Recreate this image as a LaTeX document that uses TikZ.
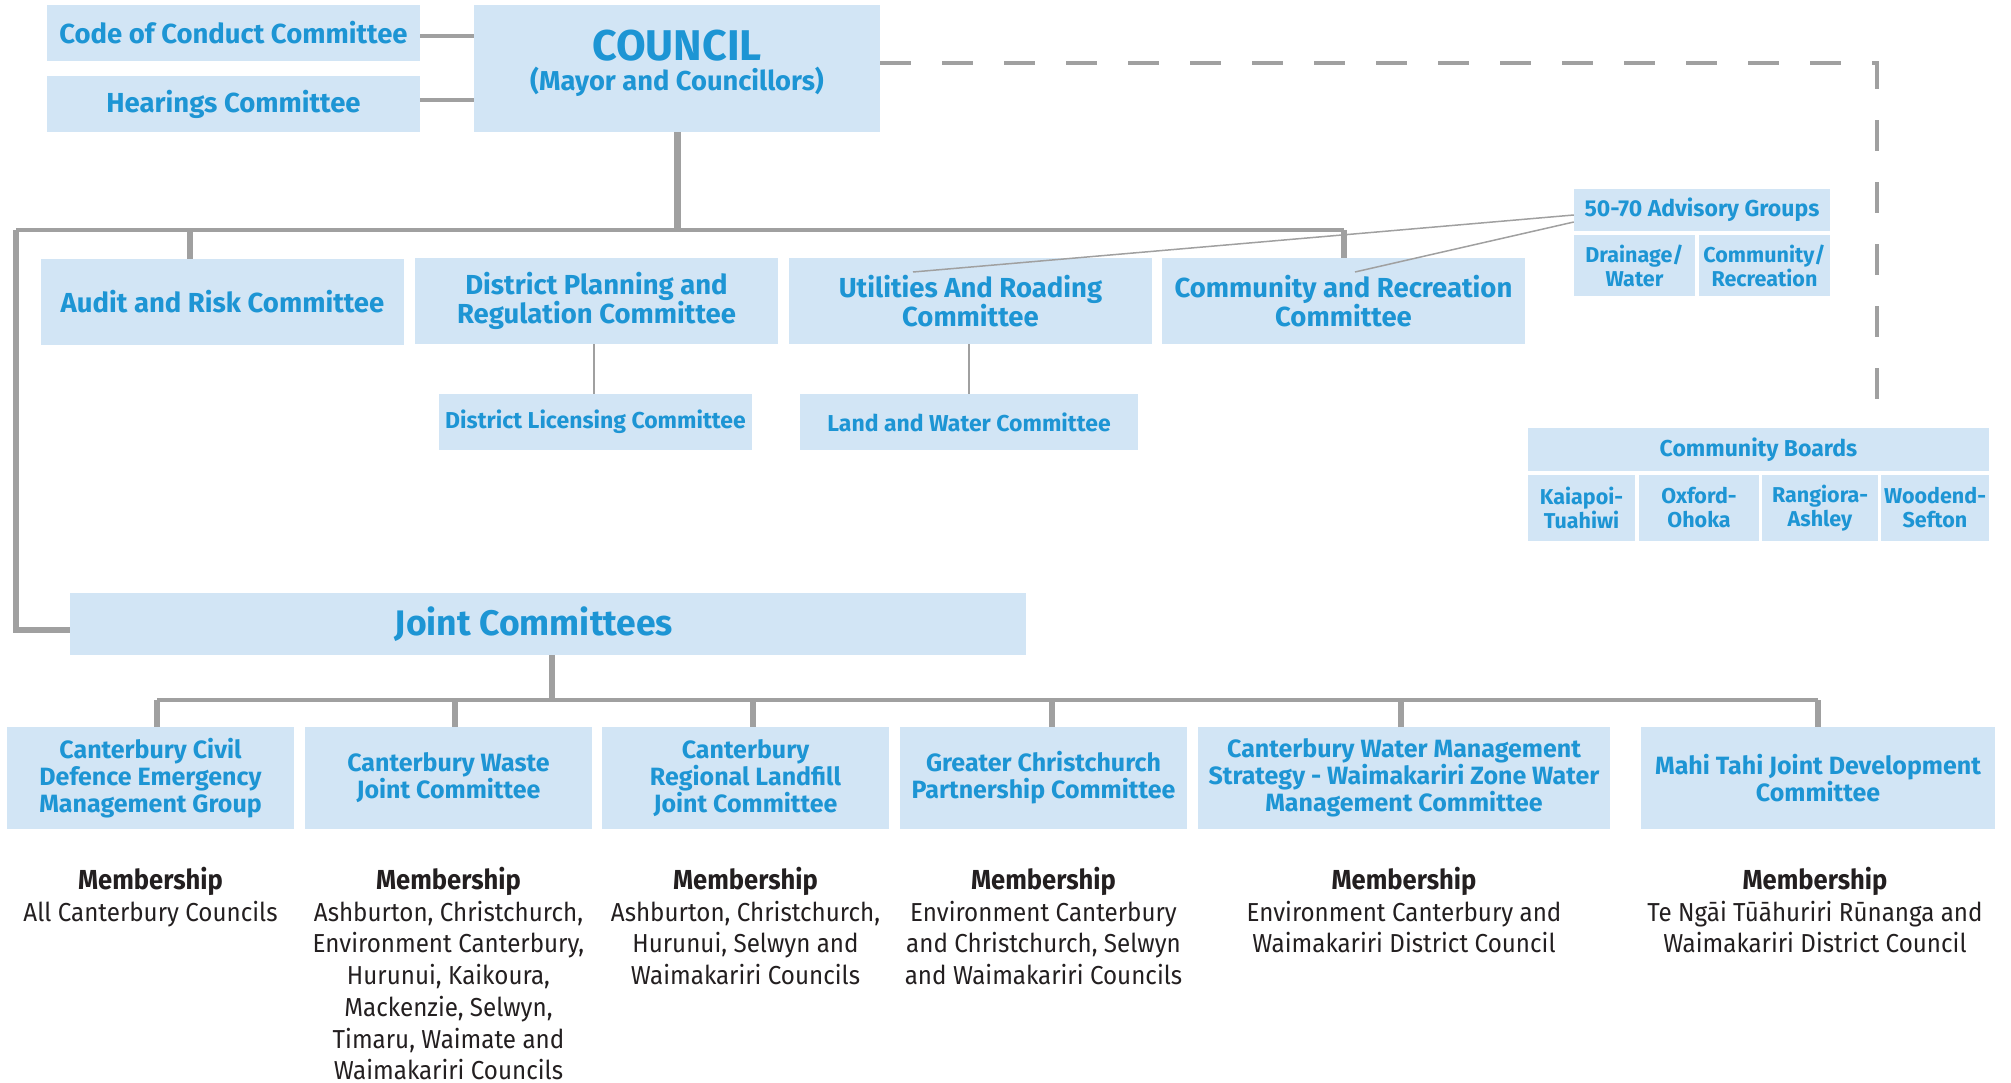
\documentclass[tikz,border=0pt]{standalone}
\usepackage{fontspec}
\setmainfont{Fira Sans}
\newfontfamily\memfont{Fira Sans}[FakeStretch=0.93]
\definecolor{boxblue}{RGB}{210,229,245}
\definecolor{textblue}{RGB}{29,149,212}
\definecolor{linegray}{RGB}{160,160,160}
\definecolor{memtext}{RGB}{35,31,32}
\tikzset{
  box/.style={fill=boxblue, text=textblue, align=center, inner sep=0pt,
    font=\bfseries\fontsize{27.5}{27}\selectfont},
  lowbox/.style={box, font=\bfseries\fontsize{25}{27}\selectfont},
  smallbox/.style={box, font=\bfseries\fontsize{23}{24.5}\selectfont},
  tinybox/.style={box, font=\bfseries\fontsize{21.5}{24}\selectfont},
  conn/.style={draw=linegray, line width=3.5pt},
  vconn/.style={draw=linegray, line width=6pt},
  thin/.style={draw=linegray, line width=2.5pt},
  hair/.style={draw=linegray, line width=1.5pt},
  dashline/.style={draw=linegray, line width=4.5pt, dash pattern=on 31pt off 31pt},
  member/.style={anchor=north, align=center, inner sep=0pt, text=memtext,
    font=\memfont\fontsize{26}{31.7}\selectfont}
}
\newcommand{\memhead}{{\bfseries\fontsize{27.5}{31.7}\selectfont Membership}}
\begin{document}
\begin{tikzpicture}[x=1pt, y=-1pt]
\useasboundingbox (0,0) rectangle (2011,1083);

% top nodes
\node[box, minimum width=373pt, minimum height=56pt] (code) at (233.5,33) {Code of Conduct Committee};
\node[box, minimum width=373pt, minimum height=56pt] (hear) at (233.5,104) {Hearings Committee};
\node[box, minimum width=406pt, minimum height=127pt] (council) at (677,68.5) {};
\node[text=textblue, font=\bfseries\fontsize{43}{45}\selectfont, inner sep=0pt] (counciltitle) at (677,46) {COUNCIL};
\node[text=textblue, font=\bfseries\fontsize{27.3}{29}\selectfont, inner sep=0pt] (councilsub) at (677,82) {(Mayor and Councillors)};

% committees
\node[box, minimum width=363pt, minimum height=86pt] (audit) at (222.5,302) {Audit and Risk Committee};
\node[box, minimum width=363pt, minimum height=86pt] (dp) at (596.5,301) {District Planning and\\Regulation Committee};
\node[box, minimum width=363pt, minimum height=86pt] (util) at (970.5,301) {Utilities And Roading\\Committee};
\node[box, minimum width=363pt, minimum height=86pt] (comrec) at (1343.5,301) {Community and Recreation\\Committee};
\node[smallbox, minimum width=313pt, minimum height=56pt] (lic) at (595.5,422) {District Licensing Committee};
\node[smallbox, minimum width=338pt, minimum height=56pt] (land) at (969,422) {Land and Water Committee};

% advisory groups
\node[smallbox, minimum width=256pt, minimum height=42pt] (adv) at (1702,210) {50-70 Advisory Groups};
\node[tinybox, minimum width=121pt, minimum height=61pt] (drain) at (1634.5,265.5) {Drainage/\\Water};
\node[tinybox, minimum width=131pt, minimum height=61pt] (comm2) at (1764.5,265.5) {Community/\\Recreation};

% community boards
\node[smallbox, minimum width=461pt, minimum height=43pt] (cb) at (1758.5,449.5) {Community Boards};
\node[tinybox, minimum width=107pt, minimum height=66pt] (kai) at (1581.5,508) {Kaiapoi-\\Tuahiwi};
\node[tinybox, minimum width=120pt, minimum height=66pt] (oxf) at (1699,508) {Oxford-\\Ohoka};
\node[tinybox, minimum width=116pt, minimum height=66pt] (ran) at (1820,508) {Rangiora-\\Ashley};
\node[tinybox, minimum width=108pt, minimum height=66pt] (woo) at (1935,508) {Woodend-\\Sefton};

% joint committees
\node[box, font=\bfseries\fontsize{35.5}{37}\selectfont, minimum width=956pt, minimum height=62pt] (joint) at (548,624) {Joint Committees\hspace*{28pt}};
\node[lowbox, minimum width=287pt, minimum height=102pt] (civ) at (150.5,778) {Canterbury Civil\\Defence Emergency\\Management Group};
\node[lowbox, minimum width=287pt, minimum height=102pt] (waste) at (448.5,778) {Canterbury Waste\\Joint Committee};
\node[lowbox, minimum width=287pt, minimum height=102pt] (landf) at (745.5,778) {Canterbury\\Regional Landfill\\Joint Committee};
\node[lowbox, minimum width=287pt, minimum height=102pt] (greater) at (1043.5,778) {Greater Christchurch\\Partnership Committee};
\node[lowbox, minimum width=412pt, minimum height=102pt] (cwms) at (1404,778) {Canterbury Water Management\\Strategy - Waimakariri Zone Water\\Management Committee};
\node[lowbox, minimum width=354pt, minimum height=102pt] (mahi) at (1818,778) {Mahi Tahi Joint Development\\Committee};

% membership
\node[member] (m1) at (150.5,867) {\memhead\\All Canterbury Councils};
\node[member] (m2) at (448.5,867) {\memhead\\Ashburton, Christchurch,\\Environment Canterbury,\\Hurunui, Kaikoura,\\Mackenzie, Selwyn,\\Timaru, Waimate and\\Waimakariri Councils};
\node[member] (m3) at (745.5,867) {\memhead\\Ashburton, Christchurch,\\Hurunui, Selwyn and\\Waimakariri Councils};
\node[member] (m4) at (1043.5,867) {\memhead\\Environment Canterbury\\and Christchurch, Selwyn\\and Waimakariri Councils};
\node[member] (m5) at (1404,867) {\memhead\\Environment Canterbury and\\Waimakariri District Council};
\node[member] (m6) at (1815,867) {\memhead\\Te Ngāi Tūāhuriri Rūnanga and\\Waimakariri District Council};

% coordinates
\coordinate (barL) at (16,230);
\coordinate (barR) at (1344,230);
\coordinate (jbar) at (552,700);
\coordinate (dashc) at (1877,63);
\coordinate (advU) at (913,272);
\coordinate (advC) at (1355,272);

% connectors top
\draw[conn] ([yshift=-3pt]code.east) -- ([yshift=-3pt]code.east -| council.west);
\draw[conn] ([yshift=4pt]hear.east) -- ([yshift=4pt]hear.east -| council.west);
\draw[draw=linegray, line width=7pt] (council.south) -- (council.south |- barL);
\draw[conn] (barL) -- (barR);
\draw[vconn] (barL) -- ([yshift=-6pt]barL |- joint.west) -- ([yshift=-6pt]joint.west);
\draw[vconn] (barL -| 190,0) -- (audit.north -| 190,0);
\draw[vconn] (barR) -- (comrec.north -| barR);
\draw[thin] (dp.south -| 594,0) -- (lic.north -| 594,0);
\draw[thin] (util.south -| land.north) -- (land.north);
\draw[hair] ([yshift=-5pt]adv.west) -- (advU);
\draw[hair] ([yshift=-12pt]adv.west) -- (advC);
\draw[dashline] (council.east |- dashc) -- (dashc) -- (dashc |- cb.north);

% joint connectors
\draw[vconn] (joint.south -| jbar) -- (jbar);
\draw[conn] (jbar -| 157,0) -- (jbar -| mahi.north);
\draw[vconn] (jbar -| 157,0) -- (civ.north -| 157,0);
\draw[vconn] (jbar -| 455,0) -- (waste.north -| 455,0);
\draw[vconn] (jbar -| 753,0) -- (landf.north -| 753,0);
\draw[vconn] (jbar -| 1052,0) -- (greater.north -| 1052,0);
\draw[vconn] (jbar -| 1401,0) -- (cwms.north -| 1401,0);
\draw[vconn] (jbar -| mahi.north) -- (mahi.north);
\end{tikzpicture}
\end{document}
